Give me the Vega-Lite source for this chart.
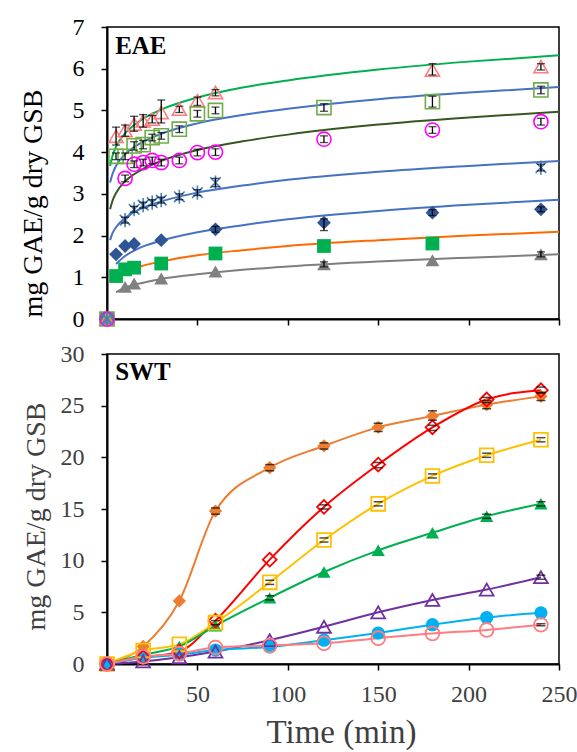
{
  "$schema": "https://vega.github.io/schema/vega-lite/v6.json",
  "padding": {"left": 18, "top": 14, "right": 10, "bottom": 0},
  "spacing": 9,
  "resolve": {"scale": {"color": "independent", "shape": "independent"}},
  "config": {
    "font": "Liberation Serif",
    "view": {"stroke": "#000", "strokeWidth": 1.5},
    "axis": {"grid": false, "labelFont": "Liberation Serif", "titleFont": "Liberation Serif", "titleFontWeight": "normal", "labelFontSize": 24, "domainColor": "#000", "domainWidth": 2, "tickColor": "#000", "tickWidth": 1.5, "tickSize": 6, "labelFlush": false, "labelOverlap": false}
  },
  "datasets": {
    "eae": [
      {"s": "A", "t": 0, "y": 0},
      {"s": "A", "t": 5, "y": 4.38, "lo": 4.17, "hi": 4.6},
      {"s": "A", "t": 10, "y": 4.52, "lo": 4.38, "hi": 4.65},
      {"s": "A", "t": 15, "y": 4.67, "lo": 4.5, "hi": 4.86},
      {"s": "A", "t": 20, "y": 4.75, "lo": 4.6, "hi": 4.9},
      {"s": "A", "t": 25, "y": 4.79, "lo": 4.7, "hi": 4.88},
      {"s": "A", "t": 30, "y": 4.95, "lo": 4.7, "hi": 5.25},
      {"s": "A", "t": 40, "y": 5.03, "lo": 4.95, "hi": 5.1},
      {"s": "A", "t": 50, "y": 5.23, "lo": 5.12, "hi": 5.32},
      {"s": "A", "t": 60, "y": 5.43, "lo": 5.35, "hi": 5.5},
      {"s": "A", "t": 180, "y": 5.97, "lo": 5.85, "hi": 6.12},
      {"s": "A", "t": 240, "y": 6.05, "lo": 5.97, "hi": 6.12},
      {"s": "B", "t": 0, "y": 0},
      {"s": "B", "t": 5, "y": 3.9, "lo": 3.82, "hi": 3.98},
      {"s": "B", "t": 10, "y": 3.9, "lo": 3.82, "hi": 3.98},
      {"s": "B", "t": 15, "y": 4.15, "lo": 4.05, "hi": 4.25},
      {"s": "B", "t": 20, "y": 4.18, "lo": 4.08, "hi": 4.28},
      {"s": "B", "t": 25, "y": 4.35, "lo": 4.27, "hi": 4.43},
      {"s": "B", "t": 30, "y": 4.39, "lo": 4.31, "hi": 4.47},
      {"s": "B", "t": 40, "y": 4.55, "lo": 4.47, "hi": 4.63},
      {"s": "B", "t": 50, "y": 4.92, "lo": 4.84, "hi": 5.0},
      {"s": "B", "t": 60, "y": 5.0, "lo": 4.92, "hi": 5.08},
      {"s": "B", "t": 120, "y": 5.07, "lo": 4.98, "hi": 5.16},
      {"s": "B", "t": 180, "y": 5.21, "lo": 5.08, "hi": 5.34},
      {"s": "B", "t": 240, "y": 5.49, "lo": 5.4, "hi": 5.58},
      {"s": "C", "t": 0, "y": 0},
      {"s": "C", "t": 10, "y": 3.37, "lo": 3.29, "hi": 3.45},
      {"s": "C", "t": 15, "y": 3.71, "lo": 3.63, "hi": 3.79},
      {"s": "C", "t": 20, "y": 3.75, "lo": 3.67, "hi": 3.83},
      {"s": "C", "t": 25, "y": 3.8, "lo": 3.72, "hi": 3.88},
      {"s": "C", "t": 30, "y": 3.75, "lo": 3.67, "hi": 3.83},
      {"s": "C", "t": 40, "y": 3.8, "lo": 3.72, "hi": 3.88},
      {"s": "C", "t": 50, "y": 3.99, "lo": 3.91, "hi": 4.07},
      {"s": "C", "t": 60, "y": 4.0, "lo": 3.92, "hi": 4.08},
      {"s": "C", "t": 120, "y": 4.31, "lo": 4.23, "hi": 4.39},
      {"s": "C", "t": 180, "y": 4.53, "lo": 4.45, "hi": 4.61},
      {"s": "C", "t": 240, "y": 4.73, "lo": 4.65, "hi": 4.81},
      {"s": "D", "t": 0, "y": 0},
      {"s": "D", "t": 10, "y": 2.37, "lo": 2.3, "hi": 2.44},
      {"s": "D", "t": 15, "y": 2.63, "lo": 2.56, "hi": 2.7},
      {"s": "D", "t": 20, "y": 2.73, "lo": 2.66, "hi": 2.8},
      {"s": "D", "t": 25, "y": 2.79, "lo": 2.72, "hi": 2.86},
      {"s": "D", "t": 30, "y": 2.85, "lo": 2.78, "hi": 2.92},
      {"s": "D", "t": 40, "y": 2.93, "lo": 2.86, "hi": 3.0},
      {"s": "D", "t": 50, "y": 3.03, "lo": 2.96, "hi": 3.1},
      {"s": "D", "t": 60, "y": 3.27, "lo": 3.17, "hi": 3.37},
      {"s": "D", "t": 240, "y": 3.63, "lo": 3.55, "hi": 3.71},
      {"s": "E", "t": 0, "y": 0},
      {"s": "E", "t": 5, "y": 1.55},
      {"s": "E", "t": 10, "y": 1.75},
      {"s": "E", "t": 15, "y": 1.8},
      {"s": "E", "t": 30, "y": 1.89},
      {"s": "E", "t": 60, "y": 2.15, "lo": 2.08, "hi": 2.22},
      {"s": "E", "t": 120, "y": 2.31, "lo": 2.12, "hi": 2.4},
      {"s": "E", "t": 180, "y": 2.55, "lo": 2.48, "hi": 2.62},
      {"s": "E", "t": 240, "y": 2.63, "lo": 2.57, "hi": 2.69},
      {"s": "F", "t": 0, "y": 0},
      {"s": "F", "t": 5, "y": 1.03},
      {"s": "F", "t": 10, "y": 1.19},
      {"s": "F", "t": 15, "y": 1.23},
      {"s": "F", "t": 30, "y": 1.33},
      {"s": "F", "t": 60, "y": 1.57},
      {"s": "F", "t": 120, "y": 1.75},
      {"s": "F", "t": 180, "y": 1.81},
      {"s": "G", "t": 0, "y": 0},
      {"s": "G", "t": 10, "y": 0.77},
      {"s": "G", "t": 15, "y": 0.85},
      {"s": "G", "t": 30, "y": 0.97},
      {"s": "G", "t": 60, "y": 1.14},
      {"s": "G", "t": 120, "y": 1.31, "lo": 1.25, "hi": 1.37},
      {"s": "G", "t": 180, "y": 1.41},
      {"s": "G", "t": 240, "y": 1.55, "lo": 1.49, "hi": 1.61}
    ],
    "eaefit": [
      {"s": "fa", "t": 1.7, "y": 3.67}, {"s": "fa", "t": 3, "y": 3.9}, {"s": "fa", "t": 5, "y": 4.13}, {"s": "fa", "t": 10, "y": 4.45}, {"s": "fa", "t": 15, "y": 4.65}, {"s": "fa", "t": 20, "y": 4.8}, {"s": "fa", "t": 30, "y": 5.02}, {"s": "fa", "t": 50, "y": 5.31}, {"s": "fa", "t": 75, "y": 5.55}, {"s": "fa", "t": 100, "y": 5.72}, {"s": "fa", "t": 150, "y": 5.98}, {"s": "fa", "t": 200, "y": 6.17}, {"s": "fa", "t": 250, "y": 6.32},
      {"s": "fb", "t": 1.7, "y": 3.27}, {"s": "fb", "t": 3, "y": 3.47}, {"s": "fb", "t": 5, "y": 3.67}, {"s": "fb", "t": 10, "y": 3.95}, {"s": "fb", "t": 15, "y": 4.12}, {"s": "fb", "t": 20, "y": 4.25}, {"s": "fb", "t": 30, "y": 4.44}, {"s": "fb", "t": 50, "y": 4.69}, {"s": "fb", "t": 75, "y": 4.89}, {"s": "fb", "t": 100, "y": 5.04}, {"s": "fb", "t": 150, "y": 5.27}, {"s": "fb", "t": 200, "y": 5.43}, {"s": "fb", "t": 250, "y": 5.56},
      {"s": "fc", "t": 1.7, "y": 2.63}, {"s": "fc", "t": 3, "y": 2.83}, {"s": "fc", "t": 5, "y": 3.02}, {"s": "fc", "t": 10, "y": 3.3}, {"s": "fc", "t": 15, "y": 3.47}, {"s": "fc", "t": 20, "y": 3.6}, {"s": "fc", "t": 30, "y": 3.79}, {"s": "fc", "t": 50, "y": 4.05}, {"s": "fc", "t": 75, "y": 4.26}, {"s": "fc", "t": 100, "y": 4.42}, {"s": "fc", "t": 150, "y": 4.66}, {"s": "fc", "t": 200, "y": 4.83}, {"s": "fc", "t": 250, "y": 4.97},
      {"s": "fd", "t": 1.7, "y": 1.89}, {"s": "fd", "t": 3, "y": 2.05}, {"s": "fd", "t": 5, "y": 2.2}, {"s": "fd", "t": 10, "y": 2.42}, {"s": "fd", "t": 15, "y": 2.56}, {"s": "fd", "t": 20, "y": 2.67}, {"s": "fd", "t": 30, "y": 2.82}, {"s": "fd", "t": 50, "y": 3.03}, {"s": "fd", "t": 75, "y": 3.2}, {"s": "fd", "t": 100, "y": 3.34}, {"s": "fd", "t": 150, "y": 3.53}, {"s": "fd", "t": 200, "y": 3.67}, {"s": "fd", "t": 250, "y": 3.79},
      {"s": "fe", "t": 5, "y": 1.32}, {"s": "fe", "t": 10, "y": 1.51}, {"s": "fe", "t": 15, "y": 1.64}, {"s": "fe", "t": 20, "y": 1.74}, {"s": "fe", "t": 30, "y": 1.88}, {"s": "fe", "t": 50, "y": 2.08}, {"s": "fe", "t": 75, "y": 2.25}, {"s": "fe", "t": 100, "y": 2.39}, {"s": "fe", "t": 150, "y": 2.59}, {"s": "fe", "t": 200, "y": 2.74}, {"s": "fe", "t": 250, "y": 2.86},
      {"s": "ff", "t": 5, "y": 0.97}, {"s": "ff", "t": 10, "y": 1.11}, {"s": "ff", "t": 15, "y": 1.21}, {"s": "ff", "t": 20, "y": 1.28}, {"s": "ff", "t": 30, "y": 1.38}, {"s": "ff", "t": 50, "y": 1.53}, {"s": "ff", "t": 75, "y": 1.65}, {"s": "ff", "t": 100, "y": 1.75}, {"s": "ff", "t": 150, "y": 1.89}, {"s": "ff", "t": 200, "y": 2.0}, {"s": "ff", "t": 250, "y": 2.09},
      {"s": "fg", "t": 5, "y": 0.64}, {"s": "fg", "t": 10, "y": 0.75}, {"s": "fg", "t": 15, "y": 0.82}, {"s": "fg", "t": 20, "y": 0.87}, {"s": "fg", "t": 30, "y": 0.96}, {"s": "fg", "t": 50, "y": 1.07}, {"s": "fg", "t": 75, "y": 1.18}, {"s": "fg", "t": 100, "y": 1.26}, {"s": "fg", "t": 150, "y": 1.38}, {"s": "fg", "t": 200, "y": 1.47}, {"s": "fg", "t": 250, "y": 1.55}
    ],
    "swt": [
      {"s": "P", "t": 0, "y": 0}, {"s": "P", "t": 20, "y": 1.7}, {"s": "P", "t": 40, "y": 6.1}, {"s": "P", "t": 60, "y": 14.8, "lo": 14.5, "hi": 15.1}, {"s": "P", "t": 90, "y": 19.0, "lo": 18.7, "hi": 19.3}, {"s": "P", "t": 120, "y": 21.1, "lo": 20.8, "hi": 21.4}, {"s": "P", "t": 150, "y": 22.9, "lo": 22.5, "hi": 23.3}, {"s": "P", "t": 180, "y": 24.0, "lo": 23.6, "hi": 24.5}, {"s": "P", "t": 210, "y": 25.1, "lo": 24.7, "hi": 25.5}, {"s": "P", "t": 240, "y": 25.9, "lo": 25.5, "hi": 26.3},
      {"s": "Q", "t": 0, "y": 0}, {"s": "Q", "t": 20, "y": 0.65}, {"s": "Q", "t": 40, "y": 1.2}, {"s": "Q", "t": 60, "y": 4.2}, {"s": "Q", "t": 90, "y": 10.1}, {"s": "Q", "t": 120, "y": 15.2, "lo": 15.0, "hi": 15.4}, {"s": "Q", "t": 150, "y": 19.3, "lo": 19.0, "hi": 19.5}, {"s": "Q", "t": 180, "y": 22.9, "lo": 22.6, "hi": 23.1}, {"s": "Q", "t": 210, "y": 25.6, "lo": 25.3, "hi": 25.8}, {"s": "Q", "t": 240, "y": 26.5, "lo": 26.2, "hi": 26.8},
      {"s": "R", "t": 0, "y": 0}, {"s": "R", "t": 20, "y": 1.3}, {"s": "R", "t": 40, "y": 1.9}, {"s": "R", "t": 60, "y": 4.0, "lo": 3.8, "hi": 4.2}, {"s": "R", "t": 90, "y": 7.9, "lo": 7.7, "hi": 8.1}, {"s": "R", "t": 120, "y": 12.0, "lo": 11.8, "hi": 12.2}, {"s": "R", "t": 150, "y": 15.5, "lo": 15.3, "hi": 15.7}, {"s": "R", "t": 180, "y": 18.2, "lo": 18.0, "hi": 18.4}, {"s": "R", "t": 210, "y": 20.2, "lo": 20.0, "hi": 20.4}, {"s": "R", "t": 240, "y": 21.7, "lo": 21.5, "hi": 21.9},
      {"s": "S", "t": 0, "y": 0}, {"s": "S", "t": 20, "y": 0.9}, {"s": "S", "t": 40, "y": 1.7}, {"s": "S", "t": 60, "y": 3.7}, {"s": "S", "t": 90, "y": 6.4, "lo": 6.2, "hi": 6.6}, {"s": "S", "t": 120, "y": 8.9}, {"s": "S", "t": 150, "y": 11.0}, {"s": "S", "t": 180, "y": 12.7}, {"s": "S", "t": 210, "y": 14.3, "lo": 14.1, "hi": 14.5}, {"s": "S", "t": 240, "y": 15.5, "lo": 15.3, "hi": 15.7},
      {"s": "T", "t": 0, "y": 0}, {"s": "T", "t": 20, "y": 0.25}, {"s": "T", "t": 40, "y": 0.65}, {"s": "T", "t": 60, "y": 1.2}, {"s": "T", "t": 90, "y": 2.3}, {"s": "T", "t": 120, "y": 3.6}, {"s": "T", "t": 150, "y": 5.0}, {"s": "T", "t": 180, "y": 6.2}, {"s": "T", "t": 210, "y": 7.2}, {"s": "T", "t": 240, "y": 8.4, "lo": 8.2, "hi": 8.6},
      {"s": "U", "t": 0, "y": 0}, {"s": "U", "t": 20, "y": 0.6}, {"s": "U", "t": 40, "y": 0.9}, {"s": "U", "t": 60, "y": 1.35}, {"s": "U", "t": 90, "y": 1.65}, {"s": "U", "t": 120, "y": 2.3}, {"s": "U", "t": 150, "y": 3.0}, {"s": "U", "t": 180, "y": 3.8}, {"s": "U", "t": 210, "y": 4.5}, {"s": "U", "t": 240, "y": 4.95},
      {"s": "V", "t": 0, "y": 0}, {"s": "V", "t": 20, "y": 0.7}, {"s": "V", "t": 40, "y": 1.0}, {"s": "V", "t": 60, "y": 1.6}, {"s": "V", "t": 90, "y": 1.8}, {"s": "V", "t": 120, "y": 2.0}, {"s": "V", "t": 150, "y": 2.5}, {"s": "V", "t": 180, "y": 2.95}, {"s": "V", "t": 210, "y": 3.3}, {"s": "V", "t": 240, "y": 3.8, "lo": 3.7, "hi": 3.9}
    ]
  },
  "vconcat": [
    {
      "width": 452,
      "height": 292,
      "layer": [
        {
          "data": {"name": "eaefit"},
          "mark": {"type": "line", "interpolate": "monotone", "strokeWidth": 2},
          "encoding": {
            "x": {"field": "t", "type": "quantitative", "scale": {"domain": [0, 250], "nice": false}, "axis": {"values": [50, 100, 150, 200, 250], "labels": false, "title": null}},
            "y": {"field": "y", "type": "quantitative", "scale": {"domain": [0, 7], "nice": false}, "axis": {"values": [0, 1, 2, 3, 4, 5, 6, 7], "title": "mg GAE/g dry GSB", "labelFont": "Times New Roman", "titleFont": "Times New Roman", "titleFontSize": 28, "titleColor": "#000", "labelColor": "#000", "labelPadding": 17, "titleX": -66, "titleY": 176, "titleAngle": -90, "titleBaseline": "alphabetic", "titleAlign": "center"}},
            "color": {"field": "s", "type": "nominal", "legend": null, "scale": {"domain": ["A", "B", "C", "D", "E", "F", "G", "fa", "fb", "fc", "fd", "fe", "ff", "fg"], "range": ["#FF7C80", "#70AD47", "#FF00FF", "#4A7EBB", "#2F5597", "#00B050", "#808080", "#00B050", "#4472C4", "#375623", "#4472C4", "#4472C4", "#FF6A00", "#7F7F7F"]}}
          }
        },
        {
          "data": {"name": "eae"},
          "transform": [{"filter": {"field": "s", "oneOf": ["E", "F", "G"]}}],
          "mark": {"type": "point", "filled": true, "size": 190, "opacity": 1},
          "encoding": {
            "x": {"field": "t", "type": "quantitative"},
            "y": {"field": "y", "type": "quantitative"},
            "color": {"field": "s", "type": "nominal", "legend": null},
            "shape": {"field": "s", "type": "nominal", "legend": null, "scale": {"domain": ["A", "B", "C", "D", "E", "F", "G"], "range": ["triangle-up", "square", "circle", "M-0.75,-0.75L0.75,0.75M-0.75,0.75L0.75,-0.75M0,-1L0,1", "diamond", "square", "triangle-up"]}}
          }
        },
        {
          "data": {"name": "eae"},
          "transform": [{"filter": {"field": "s", "oneOf": ["D", "C", "B", "A"]}}],
          "mark": {"type": "point", "filled": false, "size": 200, "strokeWidth": 1.6, "opacity": 1},
          "encoding": {
            "x": {"field": "t", "type": "quantitative"},
            "y": {"field": "y", "type": "quantitative"},
            "color": {"field": "s", "type": "nominal", "legend": null},
            "shape": {"field": "s", "type": "nominal", "legend": null}
          }
        },
        {
          "data": {"name": "eae"},
          "transform": [{"filter": {"field": "lo", "valid": true}}],
          "mark": {"type": "rule", "color": "#000", "strokeWidth": 1.3},
          "encoding": {
            "x": {"field": "t", "type": "quantitative"},
            "y": {"field": "lo", "type": "quantitative"},
            "y2": {"field": "hi"}
          }
        },
        {
          "data": {"name": "eae"},
          "transform": [{"filter": {"field": "lo", "valid": true}}],
          "mark": {"type": "tick", "orient": "horizontal", "color": "#000", "size": 8, "thickness": 1.3},
          "encoding": {
            "x": {"field": "t", "type": "quantitative"},
            "y": {"field": "lo", "type": "quantitative"}
          }
        },
        {
          "data": {"name": "eae"},
          "transform": [{"filter": {"field": "lo", "valid": true}}],
          "mark": {"type": "tick", "orient": "horizontal", "color": "#000", "size": 8, "thickness": 1.3},
          "encoding": {
            "x": {"field": "t", "type": "quantitative"},
            "y": {"field": "hi", "type": "quantitative"}
          }
        },
        {
          "data": {"values": [{}]},
          "mark": {"type": "text", "text": "EAE", "font": "Liberation Serif", "fontWeight": "bold", "fontSize": 25, "align": "left", "baseline": "alphabetic", "color": "#000"},
          "encoding": {
            "x": {"datum": 4.5, "type": "quantitative"},
            "y": {"datum": 6.35, "type": "quantitative"}
          }
        }
      ]
    },
    {
      "width": 452,
      "height": 310,
      "layer": [
        {
          "data": {"name": "swt"},
          "mark": {"type": "line", "interpolate": "monotone", "strokeWidth": 2},
          "encoding": {
            "x": {"field": "t", "type": "quantitative", "scale": {"domain": [0, 250], "nice": false}, "axis": {"values": [50, 100, 150, 200, 250], "title": "Time (min)", "labelFont": "Liberation Serif", "titleFont": "Liberation Serif", "titleFontSize": 33, "titleColor": "#404040", "labelColor": "#404040", "labelPadding": 12, "titleX": 234, "titleY": 78, "titleBaseline": "alphabetic", "titleAlign": "center"}},
            "y": {"field": "y", "type": "quantitative", "scale": {"domain": [0, 30], "nice": false}, "axis": {"values": [0, 5, 10, 15, 20, 25, 30], "title": "mg GAE/g dry GSB", "labelFont": "Liberation Serif", "titleFont": "Liberation Serif", "titleFontSize": 28, "titleColor": "#404040", "labelColor": "#404040", "labelPadding": 17, "titleX": -63, "titleY": 162, "titleAngle": -90, "titleBaseline": "alphabetic", "titleAlign": "center"}},
            "color": {"field": "s", "type": "nominal", "legend": null, "scale": {"domain": ["P", "Q", "R", "S", "T", "U", "V"], "range": ["#ED7D31", "#FF0000", "#FFC000", "#00B050", "#7030A0", "#00B0F0", "#FF7C80"]}}
          }
        },
        {
          "data": {"name": "swt"},
          "transform": [{"filter": {"field": "s", "oneOf": ["P", "S", "U"]}}],
          "mark": {"type": "point", "filled": true, "size": 175, "opacity": 1},
          "encoding": {
            "x": {"field": "t", "type": "quantitative"},
            "y": {"field": "y", "type": "quantitative"},
            "color": {"field": "s", "type": "nominal", "legend": null},
            "shape": {"field": "s", "type": "nominal", "legend": null, "scale": {"domain": ["P", "Q", "R", "S", "T", "U", "V"], "range": ["diamond", "diamond", "square", "triangle-up", "triangle-up", "circle", "circle"]}}
          }
        },
        {
          "data": {"name": "swt"},
          "transform": [{"filter": {"field": "s", "oneOf": ["V", "T", "R", "Q"]}}],
          "mark": {"type": "point", "filled": false, "size": 190, "strokeWidth": 1.8, "opacity": 1},
          "encoding": {
            "x": {"field": "t", "type": "quantitative"},
            "y": {"field": "y", "type": "quantitative"},
            "color": {"field": "s", "type": "nominal", "legend": null},
            "shape": {"field": "s", "type": "nominal", "legend": null}
          }
        },
        {
          "data": {"name": "swt"},
          "transform": [{"filter": {"field": "lo", "valid": true}}],
          "mark": {"type": "tick", "orient": "horizontal", "color": "#000", "size": 9, "thickness": 1.5},
          "encoding": {
            "x": {"field": "t", "type": "quantitative"},
            "y": {"field": "lo", "type": "quantitative"}
          }
        },
        {
          "data": {"name": "swt"},
          "transform": [{"filter": {"field": "lo", "valid": true}}],
          "mark": {"type": "tick", "orient": "horizontal", "color": "#000", "size": 9, "thickness": 1.5},
          "encoding": {
            "x": {"field": "t", "type": "quantitative"},
            "y": {"field": "hi", "type": "quantitative"}
          }
        },
        {
          "data": {"values": [{}]},
          "mark": {"type": "text", "text": "SWT", "font": "Liberation Serif", "fontWeight": "bold", "fontSize": 25, "align": "left", "baseline": "alphabetic", "color": "#000"},
          "encoding": {
            "x": {"datum": 4.5, "type": "quantitative"},
            "y": {"datum": 27.5, "type": "quantitative"}
          }
        }
      ]
    }
  ]
}
